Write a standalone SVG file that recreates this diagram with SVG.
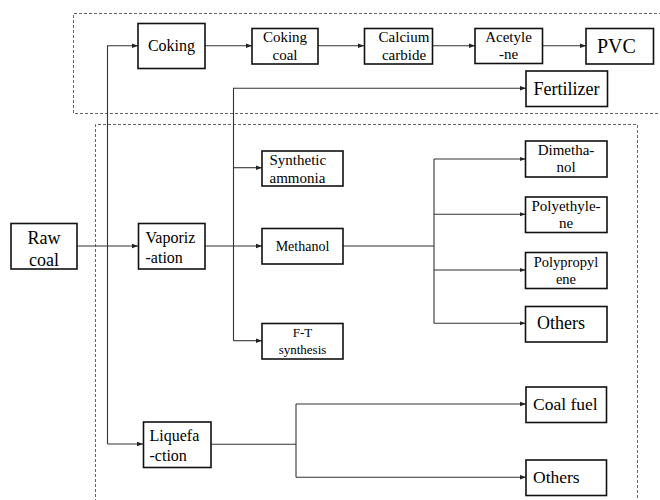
<svg xmlns="http://www.w3.org/2000/svg" width="660" height="500" viewBox="0 0 660 500">
<defs>
<marker id="ah" markerWidth="7" markerHeight="6" refX="6" refY="3" orient="auto" markerUnits="userSpaceOnUse">
<path d="M0,0.8 L6,3 L0,5.2 Z" fill="#222"/>
</marker>
</defs>
<rect width="660" height="500" fill="#fff"/>
<g id="regions" fill="none" stroke="#666" stroke-width="1" stroke-dasharray="3 2">
<path d="M662,13.5 H73.5 V113.5 H662"/>
<path d="M95.5,502 V124.5 H637.5 V502"/>
</g>
<g id="connectors" fill="none" stroke="#333" stroke-width="1.1">
<path marker-end="url(#ah)" d="M77,246 H138"/>
<path marker-end="url(#ah)" d="M107.5,444 V45.7 H138"/>
<path marker-end="url(#ah)" d="M107.5,444 H143"/>
<path marker-end="url(#ah)" d="M205,45.7 H252"/>
<path marker-end="url(#ah)" d="M318,45.7 H364"/>
<path marker-end="url(#ah)" d="M432,45.7 H475"/>
<path marker-end="url(#ah)" d="M543,45.7 H586"/>
<path marker-end="url(#ah)" d="M205,246 H262"/>
<path marker-end="url(#ah)" d="M233.5,340.7 V88.3 H526"/>
<path marker-end="url(#ah)" d="M233.5,340.7 H262"/>
<path marker-end="url(#ah)" d="M233.5,167.7 H262"/>
<path d="M343,246 H434"/>
<path d="M434,159 V323.3"/>
<path marker-end="url(#ah)" d="M434,159 H525.5"/>
<path marker-end="url(#ah)" d="M434,214.3 H525.5"/>
<path marker-end="url(#ah)" d="M434,270 H525.5"/>
<path marker-end="url(#ah)" d="M434,323.3 H525.5"/>
<path d="M211,444.3 H296"/>
<path d="M296,404 V477.3"/>
<path marker-end="url(#ah)" d="M296,404 H526"/>
<path marker-end="url(#ah)" d="M296,477.3 H526"/>
</g>
<g id="coking"><rect fill="#fff" stroke="#111" stroke-width="1.6" x="138" y="23.5" width="67" height="45"/><text font-family="Liberation Serif" text-anchor="middle" x="171.5" y="51" font-size="16">Coking</text></g>
<g id="coking-coal"><rect fill="#fff" stroke="#111" stroke-width="1.6" x="252" y="28.5" width="66" height="35.5"/><text font-family="Liberation Serif" text-anchor="middle" x="285" y="42" font-size="15">Coking</text><text font-family="Liberation Serif" text-anchor="middle" x="285" y="60" font-size="15">coal</text></g>
<g id="calcium-carbide"><rect fill="#fff" stroke="#111" stroke-width="1.6" x="364.5" y="28.5" width="68" height="35.5"/><text font-family="Liberation Serif" text-anchor="middle" x="404" y="42" font-size="15">Calcium</text><text font-family="Liberation Serif" text-anchor="middle" x="404" y="60" font-size="15">carbide</text></g>
<g id="acetylene"><rect fill="#fff" stroke="#111" stroke-width="1.6" x="475" y="28.5" width="67.5" height="35"/><text font-family="Liberation Serif" text-anchor="middle" x="508.5" y="42" font-size="15">Acetyle</text><text font-family="Liberation Serif" text-anchor="middle" x="508.5" y="59" font-size="15">-ne</text></g>
<g id="pvc"><rect fill="#fff" stroke="#111" stroke-width="1.6" x="586" y="28.5" width="67.5" height="35.5"/><text font-family="Liberation Serif" x="597" y="53" font-size="20">PVC</text></g>
<g id="fertilizer"><rect fill="#fff" stroke="#111" stroke-width="1.6" x="526" y="71" width="81.5" height="35.5"/><text font-family="Liberation Serif" text-anchor="middle" x="566.5" y="95" font-size="18">Fertilizer</text></g>
<g id="raw-coal"><rect fill="#fff" stroke="#111" stroke-width="1.6" x="11" y="223.5" width="66" height="45.5"/><text font-family="Liberation Serif" text-anchor="middle" x="44" y="244" font-size="18">Raw</text><text font-family="Liberation Serif" text-anchor="middle" x="44" y="266" font-size="18">coal</text></g>
<g id="vaporization"><rect fill="#fff" stroke="#111" stroke-width="1.6" x="138.5" y="223.5" width="66.5" height="45.5"/><text font-family="Liberation Serif" x="145.5" y="243" font-size="16">Vaporiz</text><text font-family="Liberation Serif" x="145.5" y="263" font-size="16">-ation</text></g>
<g id="synthetic-ammonia"><rect fill="#fff" stroke="#111" stroke-width="1.6" x="262" y="151" width="81" height="35"/><text font-family="Liberation Serif" x="269.5" y="165" font-size="15">Synthetic</text><text font-family="Liberation Serif" x="269.5" y="183" font-size="15">ammonia</text></g>
<g id="methanol"><rect fill="#fff" stroke="#111" stroke-width="1.6" x="262" y="228.5" width="81" height="35.5"/><text font-family="Liberation Serif" text-anchor="middle" x="302.5" y="251" font-size="14">Methanol</text></g>
<g id="ft-synthesis"><rect fill="#fff" stroke="#111" stroke-width="1.6" x="262" y="323.5" width="81" height="35.5"/><text font-family="Liberation Serif" text-anchor="middle" x="302.5" y="337" font-size="13">F-T</text><text font-family="Liberation Serif" text-anchor="middle" x="302.5" y="354" font-size="13">synthesis</text></g>
<g id="dimethanol"><rect fill="#fff" stroke="#111" stroke-width="1.6" x="525.5" y="141" width="81.5" height="36"/><text font-family="Liberation Serif" text-anchor="middle" x="566" y="155" font-size="15">Dimetha-</text><text font-family="Liberation Serif" text-anchor="middle" x="566" y="172" font-size="15">nol</text></g>
<g id="polyethylene"><rect fill="#fff" stroke="#111" stroke-width="1.6" x="525.5" y="197" width="81.5" height="35.5"/><text font-family="Liberation Serif" text-anchor="middle" x="566" y="211" font-size="15">Polyethyle-</text><text font-family="Liberation Serif" text-anchor="middle" x="566" y="228" font-size="15">ne</text></g>
<g id="polypropylene"><rect fill="#fff" stroke="#111" stroke-width="1.6" x="525.5" y="252.5" width="81.5" height="36"/><text font-family="Liberation Serif" text-anchor="middle" x="566" y="267" font-size="14.5">Polypropyl</text><text font-family="Liberation Serif" text-anchor="middle" x="566" y="284" font-size="14.5">ene</text></g>
<g id="others-methanol"><rect fill="#fff" stroke="#111" stroke-width="1.6" x="525.5" y="306.5" width="81.5" height="35.5"/><text font-family="Liberation Serif" x="537" y="329" font-size="18">Others</text></g>
<g id="liquefaction"><rect fill="#fff" stroke="#111" stroke-width="1.6" x="143.5" y="422" width="67.5" height="45.5"/><text font-family="Liberation Serif" x="149.5" y="441" font-size="16">Liquefa</text><text font-family="Liberation Serif" x="149.5" y="461" font-size="16">-ction</text></g>
<g id="coal-fuel"><rect fill="#fff" stroke="#111" stroke-width="1.6" x="526" y="387" width="80.5" height="35.5"/><text font-family="Liberation Serif" x="533" y="410" font-size="17.5">Coal fuel</text></g>
<g id="others-liquefaction"><rect fill="#fff" stroke="#111" stroke-width="1.6" x="526" y="460" width="80.5" height="35.5"/><text font-family="Liberation Serif" x="533" y="483" font-size="17.5">Others</text></g>
</svg>
